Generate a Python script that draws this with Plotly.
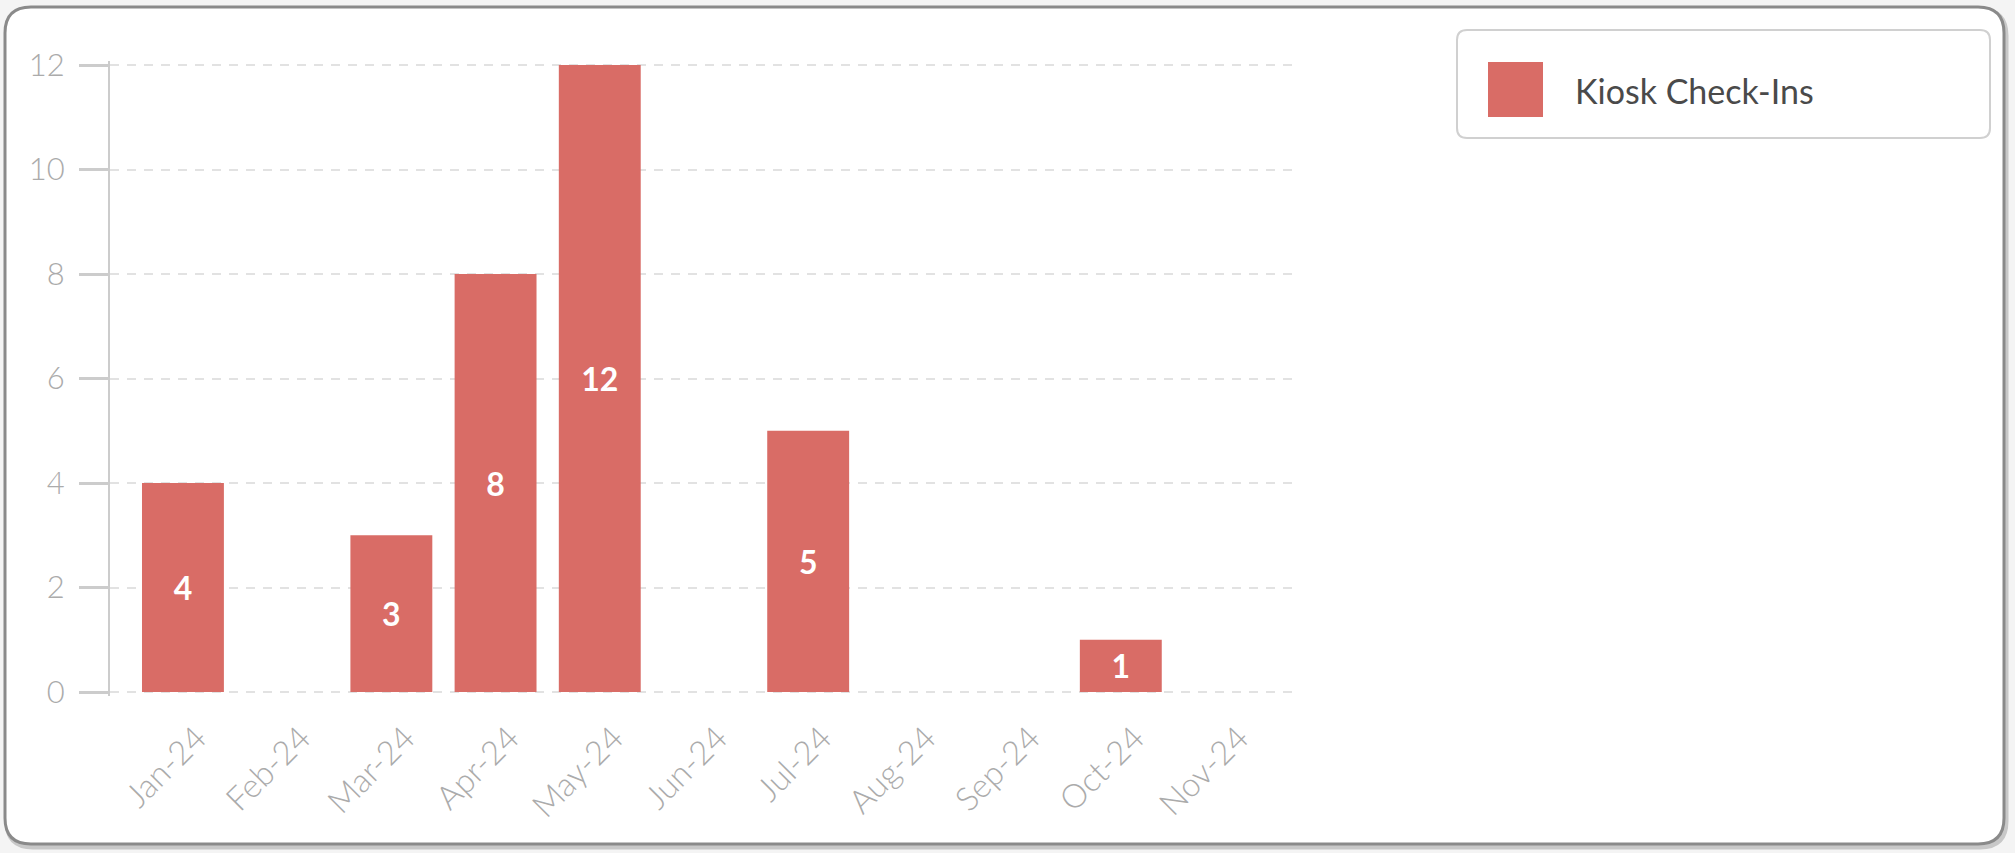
import plotly.graph_objects as go

# data
months = ['Jan-24', 'Feb-24', 'Mar-24', 'Apr-24', 'May-24', 'Jun-24',
          'Jul-24', 'Aug-24', 'Sep-24', 'Oct-24', 'Nov-24']
checkins = [4, 0, 3, 8, 12, 0, 5, 0, 0, 1, 0]
series_name = 'Kiosk Check-Ins'
y_ticks = [0, 2, 4, 6, 8, 10, 12]

W, H = 2015, 853
BAR = '#d96c66'
FONT = 'Lato'


def px(x, y):
    # pixel position on the page -> paper coords (margins are 0)
    return x / W, 1 - y / H


def rounded_rect(x0, y0, x1, y1, r):
    a0, b0 = px(x0, y0)
    a1, b1 = px(x1, y1)
    rx, ry = r / W, r / H
    return (f'M {a0 + rx},{b0} L {a1 - rx},{b0} Q {a1},{b0} {a1},{b0 - ry} '
            f'L {a1},{b1 + ry} Q {a1},{b1} {a1 - rx},{b1} '
            f'L {a0 + rx},{b1} Q {a0},{b1} {a0},{b1 + ry} '
            f'L {a0},{b0 - ry} Q {a0},{b0} {a0 + rx},{b0} Z')


fig = go.Figure()
fig.add_trace(go.Bar(
    x=months, y=checkins, name=series_name,
    marker=dict(color=BAR, line=dict(width=0)),
    text=[str(v) if v else '' for v in checkins],
    textposition='inside', insidetextanchor='middle', textangle=0,
    constraintext='none',
    textfont=dict(family=FONT, size=32, color='white', weight='bold'),
    hoverinfo='x+y',
))

# plot area in page pixels; y range padded a little so the 0 and 12 grid lines show
pad_px = 4
plot_l, plot_r = 110, 1299
plot_t, plot_b = 65 - pad_px, 692 + pad_px
y_pad = 12 * pad_px / (692 - 65)

shapes = [
    # outer card
    dict(type='path', xref='paper', yref='paper',
         path=rounded_rect(7, 10, 2006, 847, 26),
         line=dict(color='rgba(0,0,0,0.18)', width=5), layer='below'),
    dict(type='path', xref='paper', yref='paper',
         path=rounded_rect(5, 7, 2004, 844, 26),
         line=dict(color='#8a8a8a', width=3), fillcolor='white', layer='below'),
    # legend box
    dict(type='path', xref='paper', yref='paper',
         path=rounded_rect(1457, 30, 1990, 138, 10),
         line=dict(color='#d0d0d0', width=2), layer='above'),
]
sx0, sy0 = px(1488, 62)
sx1, sy1 = px(1543, 117)
shapes.append(dict(type='rect', xref='paper', yref='paper',
                   x0=sx0, y0=sy1, x1=sx1, y1=sy0,
                   fillcolor=BAR, line=dict(width=0)))

tx, ty = px(1573, 90)

fig.update_layout(
    template='none',
    width=W, height=H,
    margin=dict(l=0, r=0, t=0, b=0),
    paper_bgcolor='#f4f4f4',
    plot_bgcolor='rgba(0,0,0,0)',
    showlegend=False,
    bargap=0.214,
    font=dict(family=FONT),
    shapes=shapes,
    annotations=[dict(text=series_name, x=tx, y=ty, xref='paper', yref='paper',
                      xanchor='left', yanchor='middle', showarrow=False,
                      font=dict(family=FONT, size=34, color='#4a4a4a'))],
    xaxis=dict(
        domain=[plot_l / W, plot_r / W],
        range=[-0.70, 10.71],
        showgrid=False, zeroline=False, showline=False,
        ticks='', tickangle=-45,
        ticklabelstandoff=15, ticklabelshift=14,
        tickfont=dict(family=FONT, size=33, color='#ababab', weight=300),
        automargin=False,
    ),
    yaxis=dict(
        domain=[1 - plot_b / H, 1 - plot_t / H],
        range=[-y_pad, 12 + y_pad],
        tickvals=y_ticks,
        showgrid=True, gridcolor='#e2e2e2', gridwidth=2, griddash='9px,8px',
        zeroline=False,
        showline=True, linecolor='#cccccc', linewidth=2,
        ticks='outside', ticklen=29, tickwidth=3, tickcolor='#cccccc',
        ticklabelstandoff=8,
        tickfont=dict(family=FONT, size=31, color='#ababab', weight=300),
        automargin=False,
    ),
)

fig.write_html('out.html', config={'displayModeBar': False},
               post_script="document.body.style.margin='0';")
